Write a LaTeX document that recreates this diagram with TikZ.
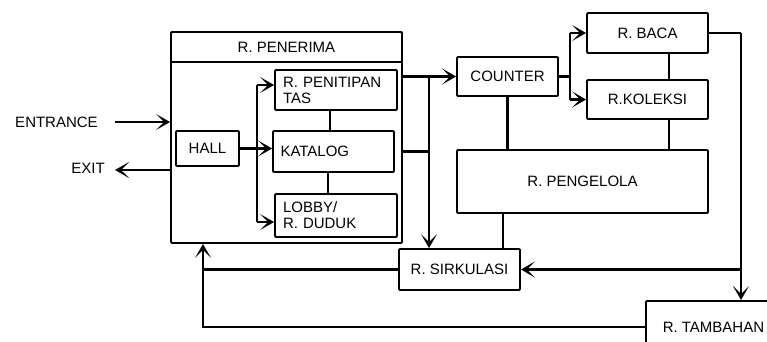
\documentclass[tikz,border=0pt]{standalone}
\usepackage{fontspec}
\setmainfont{Liberation Sans}
\usetikzlibrary{arrows.meta,calc,positioning}
\tikzset
{
  ruang/.style={draw,line width=1.9pt,rounded corners=1pt,inner sep=0pt},
  kiri/.style={text width=106pt,align=left},
  garis/.style={draw,line width=2.1pt},
  alir/.style={draw,line width=2.1pt,-{Stealth[length=14pt,width=16pt,inset=8pt]}}
}

\begin{document}
\begin{tikzpicture}[x=1pt,y=-1pt,font=\fontsize{15}{16}\selectfont]
        \clip (0,0) rectangle (767,341);
        \fill[white] (0,0) rectangle (767,341);

        % Draw R. Penerima with its rooms
        \node[ruang,minimum width=231pt,minimum height=211pt] (penerima) at (286.5,137.5) {};
        \node[ruang,minimum width=231pt,minimum height=30pt] (judul) at (286.5,47) {R. PENERIMA};
        \node[ruang,minimum width=63pt,minimum height=35pt] (hall) at (207.5,148.5) {HALL};
        \node[ruang,kiri,minimum width=122pt,minimum height=40pt] (penitipan) at (336,90) {R. PENITIPAN\\TAS};
        \node[ruang,kiri,minimum width=121pt,minimum height=41pt] (katalog) at (333.5,151.5) {KATALOG};
        \node[ruang,kiri,minimum width=122pt,minimum height=43pt] (lobby) at (336,215.5) {LOBBY/\\R. DUDUK};

        % Draw the other rooms
        \node[ruang,minimum width=101pt,minimum height=39pt] (counter) at (507.5,76.5) {COUNTER};
        \node[ruang,minimum width=121pt,minimum height=40pt] (baca) at (647.5,33) {R. BACA};
        \node[ruang,minimum width=121pt,minimum height=39pt] (koleksi) at (647.5,99.5) {R.KOLEKSI};
        \node[ruang,minimum width=251pt,minimum height=63pt] (pengelola) at (582.5,181.5) {R. PENGELOLA};
        \node[ruang,minimum width=121pt,minimum height=41pt] (sirkulasi) at (459.5,269.5) {R. SIRKULASI};
        \node[ruang,anchor=north west,minimum width=135pt,minimum height=52pt] (tambahan) at (645,300) {R. TAMBAHAN};

        % Entrance and exit
        \node (entrance) at (56.5,122) {ENTRANCE};
        \node (exit) at (88,168) {EXIT};
        \coordinate (masuk) at (115,122);
        \coordinate (keluar) at (115,170);
        \draw[alir] (masuk) -- (masuk -| penerima.west);
        \draw[alir] (keluar -| penerima.west) -- (keluar);

        % Hall to the rooms inside
        \coordinate (bus) at (257,148.5);
        \coordinate (atas) at (257,85);
        \coordinate (bawah) at (257,222);
        \draw[garis] (hall.east) -- (bus);
        \draw[garis] (atas) -- (bawah);
        \draw[alir] (atas) -- (atas -| penitipan.west);
        \draw[alir] (bus) -- (bus -| katalog.west);
        \draw[alir] (bawah) -- (bawah -| lobby.west);
        \coordinate (v1) at (330,0);
        \coordinate (v2) at (328,0);
        \draw[garis] (v1 |- penitipan.south) -- (v1 |- katalog.north);
        \draw[garis] (v2 |- katalog.south) -- (v2 |- lobby.north);

        % Penerima to counter and sirkulasi
        \coordinate (j1) at (429,76.5);
        \draw[alir] (counter.west -| penerima.east) -- (counter.west);
        \draw[garis] (penerima.east |- katalog) -- (j1 |- katalog);
        \draw[alir] (j1) -- (j1 |- sirkulasi.north);

        % Counter to baca and koleksi
        \coordinate (j2) at (570,76.5);
        \draw[garis] (counter.east) -- (j2);
        \draw[garis] (j2 |- baca.west) -- (j2 |- koleksi.west);
        \draw[alir] (j2 |- baca.west) -- (baca.west);
        \draw[alir] (j2 |- koleksi.west) -- (koleksi.west);
        \draw[garis] (counter.south) -- (counter.south |- pengelola.north);
        \coordinate (v3) at (669,0);
        \draw[garis] (v3 |- baca.south) -- (v3 |- koleksi.north);
        \draw[garis] (v3 |- koleksi.south) -- (v3 |- pengelola.north);
        \coordinate (v4) at (503,0);
        \draw[garis] (v4 |- pengelola.south) -- (v4 |- sirkulasi.north);

        % Return paths
        \coordinate (j3) at (741,0);
        \coordinate (j4) at (203,0);
        \draw[garis] (baca.east) -- (j3 |- baca.east);
        \draw[alir] (j3 |- baca.east) -- (j3 |- tambahan.north);
        \draw[alir] (j3 |- sirkulasi.east) -- (sirkulasi.east);
        \draw[alir] (sirkulasi.west) -| (j4 |- penerima.south);
        \draw[garis] (tambahan.west) -| (j4 |- sirkulasi.west);
    \end{tikzpicture}
\end{document}
